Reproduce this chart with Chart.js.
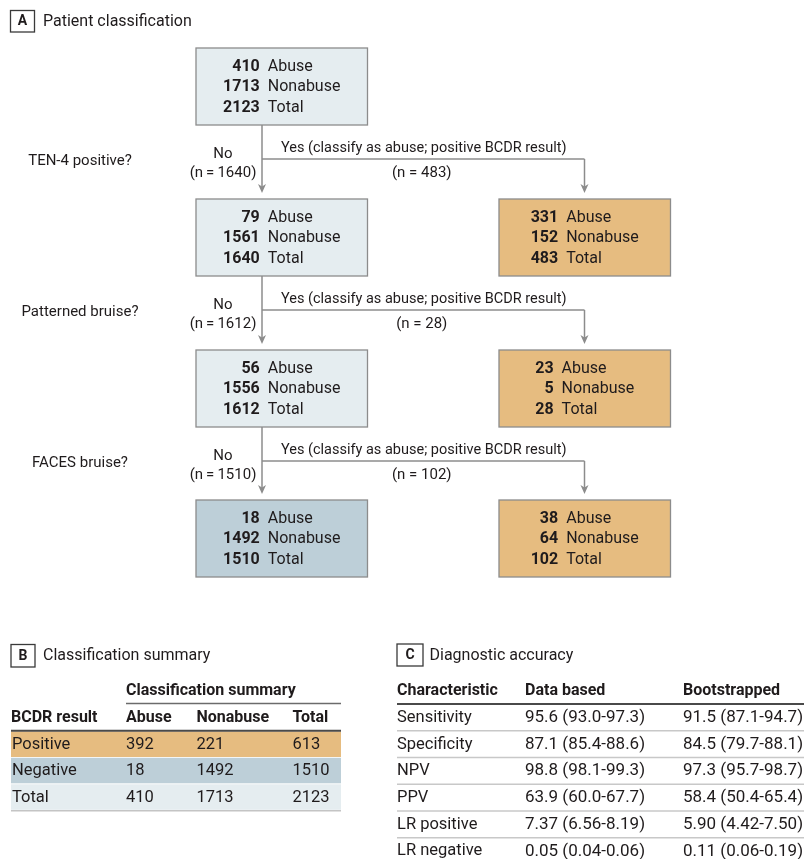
<!DOCTYPE html>
<html>
<head>
<meta charset="utf-8">
<script src="https://cdn.jsdelivr.net/npm/chart.js@4.4.1/dist/chart.umd.min.js"></script>
<style>
html,body{margin:0;padding:0;background:#fff;}
#wrap{width:804px;height:859px;position:relative;overflow:hidden;}
</style>
</head>
<body>
<div id="wrap"><canvas id="c" width="804" height="859"></canvas></div>
<script>
// ---------- DATA ----------
// Flowchart nodes: 0 = all, 1 = TEN-4 negative, 2 = TEN-4 positive,
// 3 = patterned negative, 4 = patterned positive, 5 = FACES negative, 6 = FACES positive
const nodeAbuse    = [410, 79, 331, 56, 23, 18, 38];
const nodeNonabuse = [1713, 1561, 152, 1556, 5, 1492, 64];
const nodeTotal    = [2123, 1640, 483, 1612, 28, 1510, 102];
const questions    = ["TEN-4 positive?", "Patterned bruise?", "FACES bruise?"];
const noCounts     = [1640, 1612, 1510];
const yesCounts    = [483, 28, 102];
const rowLabels    = ["Abuse", "Nonabuse", "Total"];

// Classification summary table
const bcdrResults  = ["Positive", "Negative", "Total"];
const bAbuse       = [392, 18, 410];
const bNonabuse    = [221, 1492, 1713];
const bTotal       = [613, 1510, 2123];
const bColumns     = ["Abuse", "Nonabuse", "Total"];

// Diagnostic accuracy table
const characteristics = ["Sensitivity", "Specificity", "NPV", "PPV", "LR positive", "LR negative"];
const dataPoint  = [95.6, 87.1, 98.8, 63.9, 7.37, 0.05];
const dataLow    = [93.0, 85.4, 98.1, 60.0, 6.56, 0.04];
const dataHigh   = [97.3, 88.6, 99.3, 67.7, 8.19, 0.06];
const bootPoint  = [91.5, 84.5, 97.3, 58.4, 5.90, 0.11];
const bootLow    = [87.1, 79.7, 95.7, 50.4, 4.42, 0.06];
const bootHigh   = [94.7, 88.1, 98.7, 65.4, 7.50, 0.19];
const decimals   = [1, 1, 1, 1, 2, 2];

// ---------- LAYOUT / STYLE ----------
const FONT = "Roboto";
const TXT = "#1f1b1c";
const LINE = "#8c8c8c";
const LIGHT = "#e5edf0";
const BLUE = "#bdcfd8";
const ORANGE = "#e6bc80";
const nodeCol = [0, 0, 1, 0, 1, 0, 1];
const nodeRow = [0, 1, 1, 2, 2, 3, 3];
const colLeft = [196, 499];
const boxW = 171.5;
const rowTop = [48, 199, 350, 500];
const boxH = 77;
const stemX = 262;
const rightX = 584.5;

function fmt(v, d) { return v.toFixed(d); }

const drawPlugin = {
  id: 'flowTables',
  afterDraw(chart) {
    const ctx = chart.ctx;
    const xs = chart.scales.x, ys = chart.scales.y;
    const X = v => xs.getPixelForValue(v);
    const Y = v => ys.getPixelForValue(v);
    const font = (s, b) => (b ? "bold " : "") + s + "px " + FONT + ", 'Liberation Sans', sans-serif";
    ctx.save();
    ctx.textBaseline = "middle";

    function text(t, x, y, size, bold, align, color) {
      ctx.font = font(size, bold);
      ctx.textAlign = align || "left";
      ctx.fillStyle = color || TXT;
      ctx.fillText(t, X(x), Y(y));
    }
    function line(x1, y1, x2, y2, w, c) {
      ctx.beginPath();
      ctx.moveTo(X(x1), Y(y1));
      ctx.lineTo(X(x2), Y(y2));
      ctx.lineWidth = w; ctx.strokeStyle = c; ctx.stroke();
    }
    function arrowDown(x, y1, tip) {
      line(x, y1, x, tip - 6, 1.5, LINE);
      ctx.beginPath();
      ctx.moveTo(X(x), Y(tip));
      ctx.lineTo(X(x - 4), Y(tip - 9));
      ctx.lineTo(X(x), Y(tip - 6.5));
      ctx.lineTo(X(x + 4), Y(tip - 9));
      ctx.closePath();
      ctx.fillStyle = LINE; ctx.fill();
    }
    function panelLabel(letter, x, y, w, h, title, titleX) {
      ctx.lineWidth = 1.3; ctx.strokeStyle = "#3a3a3a";
      ctx.strokeRect(X(x), Y(y), X(x + w) - X(x), Y(y + h) - Y(y));
      text(letter, x + w / 2, y + h / 2 + 0.5, 14, true, "center");
      text(title, titleX, y + h / 2 + 0.5, 16, false, "left");
    }

    // ---- Panel A ----
    panelLabel("A", 10.5, 10.5, 24, 21.5, "Patient classification", 43);

    // nodes
    for (let i = 0; i < nodeTotal.length; i++) {
      const c = nodeCol[i], r = nodeRow[i];
      const x0 = colLeft[c], y0 = rowTop[r];
      let fill = c === 1 ? ORANGE : (r === 3 ? BLUE : LIGHT);
      ctx.fillStyle = fill;
      ctx.fillRect(X(x0), Y(y0), X(x0 + boxW) - X(x0), Y(y0 + boxH) - Y(y0));
      ctx.lineWidth = 1.3; ctx.strokeStyle = LINE;
      ctx.strokeRect(X(x0), Y(y0), X(x0 + boxW) - X(x0), Y(y0 + boxH) - Y(y0));
      const nums = [nodeAbuse[i], nodeNonabuse[i], nodeTotal[i]].map(String);
      ctx.font = font(16, true);
      const nw = Math.max(...nums.map(s => ctx.measureText(s).width));
      ctx.font = font(16, false);
      const lw = Math.max(...rowLabels.map(s => ctx.measureText(s).width));
      const gap = 8;
      const total = nw + gap + lw;
      const cx = x0 + boxW / 2;
      const numRight = cx - total / 2 + nw;
      const offs = [18.5, 39, 59.5];
      for (let k = 0; k < 3; k++) {
        text(nums[k], numRight, y0 + offs[k], 16, true, "right");
        text(rowLabels[k], numRight + gap, y0 + offs[k], 16, false, "left");
      }
    }

    // branches
    for (let b = 0; b < 3; b++) {
      const bottom = rowTop[b] + boxH;
      const nextTop = rowTop[b + 1];
      const L = bottom + 34;
      arrowDown(stemX, bottom, nextTop - 6);
      line(stemX, L, rightX, L, 1.5, LINE);
      arrowDown(rightX, L, nextTop - 6);
      text(questions[b], 80, L + 2, 15, false, "center");
      text("No", 223, L - 4.5, 15, false, "center");
      text("(n\u2009=\u2009" + noCounts[b] + ")", 223, L + 14, 15, false, "center");
      text("Yes (classify as abuse; positive BCDR result)", 281, L - 10.5, 14.5, false, "left");
      text("(n = " + yesCounts[b] + ")", (stemX + rightX) / 2 - 1.5, L + 14, 15, false, "center");
    }

    // ---- Panel B ----
    panelLabel("B", 11, 644.5, 24, 22.5, "Classification summary", 43);
    const bx = [11, 126, 196.5, 292.5];
    const bRight = 341;
    text("Classification summary", 126, 690.5, 16, true, "left");
    line(126, 703.5, bRight, 703.5, 1.3, "#6b6b6b");
    text("BCDR result", bx[0], 717.5, 16, true, "left");
    bColumns.forEach((c, j) => text(c, bx[j + 1], 717.5, 16, true, "left"));
    const bFills = [ORANGE, BLUE, LIGHT];
    const bandTop = [731.5, 757.8, 784.3];
    const bandH = 25.5;
    for (let r = 0; r < 3; r++) {
      ctx.fillStyle = bFills[r];
      ctx.fillRect(X(bx[0]), Y(bandTop[r]), X(bRight) - X(bx[0]), Y(bandTop[r] + bandH) - Y(bandTop[r]));
      const ty = bandTop[r] + bandH / 2 + 0.8;
      text(bcdrResults[r], bx[0] + 1, ty, 16.5, false, "left");
      text(String(bAbuse[r]), bx[1], ty, 16.5, false, "left");
      text(String(bNonabuse[r]), bx[2], ty, 16.5, false, "left");
      text(String(bTotal[r]), bx[3], ty, 16.5, false, "left");
    }
    line(bx[0], 730.7, bRight, 730.7, 2, "#4a4a4a");
    line(bx[0], 810.8, bRight, 810.8, 1.5, "#c4c4c4");

    // ---- Panel C ----
    panelLabel("C", 397, 644, 26, 22, "Diagnostic accuracy", 429.5);
    const cx0 = [397, 525, 683];
    text("Characteristic", cx0[0], 690.5, 16, true, "left");
    text("Data based", cx0[1], 690.5, 16, true, "left");
    text("Bootstrapped", cx0[2], 690.5, 16, true, "left");
    line(397, 704, 804, 704, 2, "#4a4a4a");
    const rowY = [717.6, 744.5, 771.1, 797.9, 824.6, 851.3];
    for (let r = 0; r < characteristics.length; r++) {
      const d = decimals[r];
      text(characteristics[r], cx0[0], rowY[r], 16.5, false, "left");
      text(fmt(dataPoint[r], d) + " (" + fmt(dataLow[r], d) + "-" + fmt(dataHigh[r], d) + ")", cx0[1], rowY[r], 17, false, "left");
      text(fmt(bootPoint[r], d) + " (" + fmt(bootLow[r], d) + "-" + fmt(bootHigh[r], d) + ")", cx0[2], rowY[r], 17, false, "left");
      if (r < characteristics.length - 1) {
        const ly = (rowY[r] + rowY[r + 1]) / 2 - 0.3;
        line(397, ly, 804, ly, 1.5, "#c8c8c8");
      }
    }
    ctx.restore();
  }
};

new Chart(document.getElementById('c'), {
  type: 'scatter',
  data: { datasets: [{ data: [], pointRadius: 0 }] },
  options: {
    responsive: false,
    animation: false,
    events: [],
    layout: { padding: 0 },
    plugins: { legend: { display: false }, tooltip: { enabled: false } },
    scales: {
      x: { type: 'linear', min: 0, max: 804, display: false },
      y: { type: 'linear', min: 0, max: 859, reverse: true, display: false }
    }
  },
  plugins: [drawPlugin]
});
</script>
</body>
</html>
